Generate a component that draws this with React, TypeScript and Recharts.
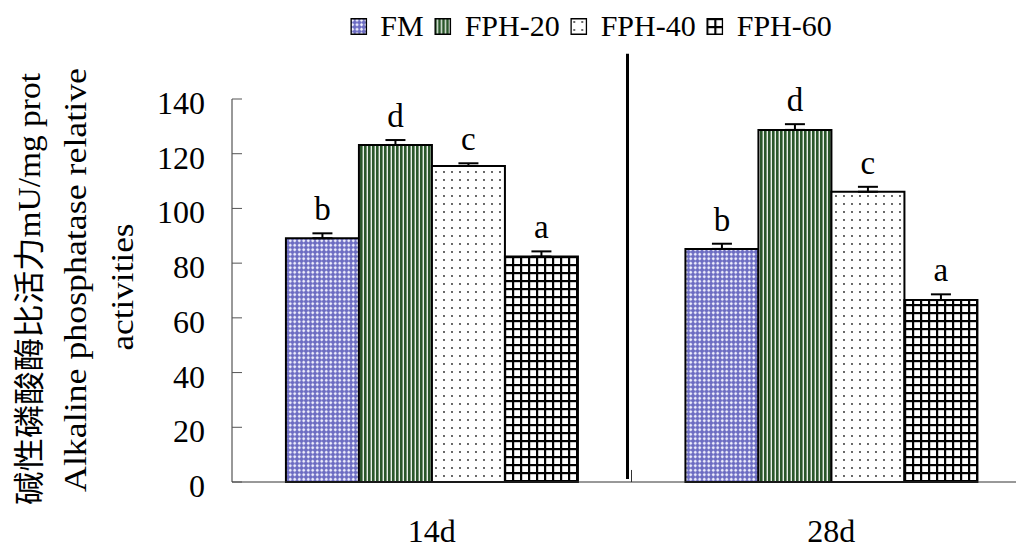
import React from 'react';
import { BarChart, Bar, XAxis, YAxis, ErrorBar, LabelList, ReferenceLine } from 'recharts';

const categories = ['14d', '28d'];
const seriesNames = ['FM', 'FPH-20', 'FPH-40', 'FPH-60'];
const fmValues = [89.1, 85.2];
const fph20Values = [123.2, 128.7];
const fph40Values = [115.5, 106.1];
const fph60Values = [82.4, 66.5];
const fmErrors = [1.8, 1.9];
const fph20Errors = [1.8, 2.1];
const fph40Errors = [1.0, 1.8];
const fph60Errors = [1.9, 2.1];
const fmLetters = ['b', 'b'];
const fph20Letters = ['d', 'd'];
const fph40Letters = ['c', 'c'];
const fph60Letters = ['a', 'a'];
const yTicks = [0, 20, 40, 60, 80, 100, 120, 140];
const yTitleLines = ['碱性磷酸酶比活力mU/mg prot', 'Alkaline phosphatase relative', 'activities'];

const FONT = "'Liberation Serif', 'Noto Sans CJK SC', serif";

const series = [
  { key: 'fm', name: seriesNames[0], values: fmValues, errors: fmErrors, letters: fmLetters, fill: 'url(#pat-fm)' },
  { key: 'fph20', name: seriesNames[1], values: fph20Values, errors: fph20Errors, letters: fph20Letters, fill: 'url(#pat-green)' },
  { key: 'fph40', name: seriesNames[2], values: fph40Values, errors: fph40Errors, letters: fph40Letters, fill: 'url(#pat-dot)' },
  { key: 'fph60', name: seriesNames[3], values: fph60Values, errors: fph60Errors, letters: fph60Letters, fill: 'url(#pat-grid)' },
];

const data = categories.map((c, i) => {
  const row: any = { category: c };
  series.forEach((s) => {
    row[s.key] = s.values[i];
    row[s.key + 'Err'] = [0, s.errors[i]];
    row[s.key + 'Letter'] = s.letters[i];
  });
  return row;
});

const YTick = (props: any) => {
  const { x, y, payload } = props;
  return (
    <g>
      <line x1={x} x2={x + 10} y1={y} y2={y} stroke="#555" strokeWidth={1} />
      <text x={x - 27} y={y + 4} textAnchor="end" dominantBaseline="central" fontFamily={FONT} fontSize={32} fill="#000">
        {payload.value}
      </text>
    </g>
  );
};

const XTick = (props: any) => {
  const { x, y, payload } = props;
  return (
    <text x={x} y={y + 49} textAnchor="middle" dominantBaseline="central" fontFamily={FONT} fontSize={32} fill="#000">
      {payload.value}
    </text>
  );
};

const makeLetter = (s: any) => (p: any) => {
  const x = Number(p.x), y = Number(p.y), width = Number(p.width), height = Number(p.height);
  const idx = p.index;
  const v = s.values[idx];
  const e = s.errors[idx];
  const errPx = (Math.abs(height) / v) * e;
  return (
    <text x={x + width / 2} y={y - errPx - 13} textAnchor="middle" fontFamily={FONT} fontSize={33} fill="#000">
      {s.letters[idx]}
    </text>
  );
};

const DividerShape = (props: any) => {
  const { x1, y1, x2, y2 } = props;
  return <line x1={x1 - 4} x2={x2 - 4} y1={y1} y2={y2} stroke="#000" strokeWidth={3} />;
};

export default function App() {
  return (
    <div style={{ position: 'absolute', left: 0, top: 0, width: 1016, height: 548, overflow: 'hidden', background: '#fff' }}>
      <svg width={0} height={0} style={{ position: 'absolute' }}>
        <defs>
          <pattern id="pat-fm" patternUnits="userSpaceOnUse" width={4.5} height={4.5}>
            <rect width={4.5} height={4.5} fill="#6c6cc2" />
            <polygon points="2.25,0.5 4,2.25 2.25,4 0.5,2.25" fill="#f4f4ff" />
          </pattern>
          <pattern id="pat-green" patternUnits="userSpaceOnUse" width={4} height={4}>
            <rect width={4} height={4} fill="#e8efe8" />
            <rect x={0} y={0} width={2.6} height={4} fill="#2a572a" />
          </pattern>
          <pattern id="pat-dot" patternUnits="userSpaceOnUse" width={8} height={8}>
            <rect width={8} height={8} fill="#ffffff" />
            <circle cx={4} cy={4} r={0.9} fill="#222" />
          </pattern>
          <pattern id="pat-grid" patternUnits="userSpaceOnUse" width={8} height={8}>
            <rect width={8} height={8} fill="#ffffff" />
            <rect x={0} y={0} width={8} height={2.2} fill="#000" />
            <rect x={0} y={0} width={2.2} height={8} fill="#000" />
          </pattern>
        </defs>
      </svg>

      <BarChart
        width={1040}
        height={548}
        data={data}
        margin={{ top: 99, right: 9, bottom: 0, left: 0 }}
        barCategoryGap="13.5%"
        barGap={0}
      >
        <XAxis
          dataKey="category"
          height={66}
          axisLine={{ stroke: '#333', strokeWidth: 1 }}
          tickLine={false}
          tickSize={0}
          tickMargin={0}
          tick={<XTick />}
          interval={0}
        />
        <YAxis
          width={232}
          domain={[0, 140]}
          ticks={yTicks}
          axisLine={{ stroke: '#333', strokeWidth: 1 }}
          tickLine={false}
          tickSize={0}
          tickMargin={0}
          tick={<YTick />}
          interval={0}
        />
        {series.map((s) => (
          <Bar
            key={s.key}
            dataKey={s.key}
            name={s.name}
            fill={s.fill}
            stroke="#000"
            strokeWidth={2}
            isAnimationActive={false}
          >
            <ErrorBar dataKey={s.key + 'Err'} width={10} stroke="#000" strokeWidth={2} direction="y" />
            <LabelList dataKey={s.key + 'Letter'} content={makeLetter(s)} />
          </Bar>
        ))}
        <ReferenceLine
          position="start"
          segment={[{ x: '28d', y: 0 }, { x: '28d', y: 4.4 }]}
          ifOverflow="visible"
          stroke="#333"
          strokeWidth={1}
        />
        <ReferenceLine
          position="start"
          segment={[{ x: '28d', y: 1.1 }, { x: '28d', y: 156.5 }]}
          ifOverflow="visible"
          shape={<DividerShape />}
        />
      </BarChart>

      <svg width={160} height={548} style={{ position: 'absolute', left: 0, top: 0 }}>
        {yTitleLines.map((t, i) => {
          const cx = [29, 75, 122][i];
          const cy = [289, 280, 287][i];
          const len = [432, 424, 127][i];
          return (
            <text
              key={i}
              x={cx}
              y={cy}
              transform={`rotate(-90 ${cx} ${cy})`}
              textAnchor="middle"
              dominantBaseline="central"
              fontFamily={FONT}
              fontSize={31}
              textLength={len}
              lengthAdjust="spacingAndGlyphs"
              fill="#000"
            >
              {t}
            </text>
          );
        })}
      </svg>

      <div
        style={{
          position: 'absolute',
          top: 9,
          left: 591,
          transform: 'translateX(-50%)',
          display: 'flex',
          alignItems: 'center',
          whiteSpace: 'nowrap',
          fontFamily: FONT,
          fontSize: 30,
          lineHeight: '34px',
          color: '#000',
        }}
      >
        {series.map((s, i) => (
          <div key={s.key} style={{ display: 'flex', alignItems: 'center', marginLeft: i ? 11 : 0 }}>
            <svg width={17} height={17} style={{ display: 'block' }}>
              <rect x={0.75} y={0.75} width={15.5} height={15.5} fill={s.fill} stroke="#000" strokeWidth={1.5} />
            </svg>
            <span style={{ marginLeft: 13 }}>{s.name}</span>
          </div>
        ))}
      </div>
    </div>
  );
}
